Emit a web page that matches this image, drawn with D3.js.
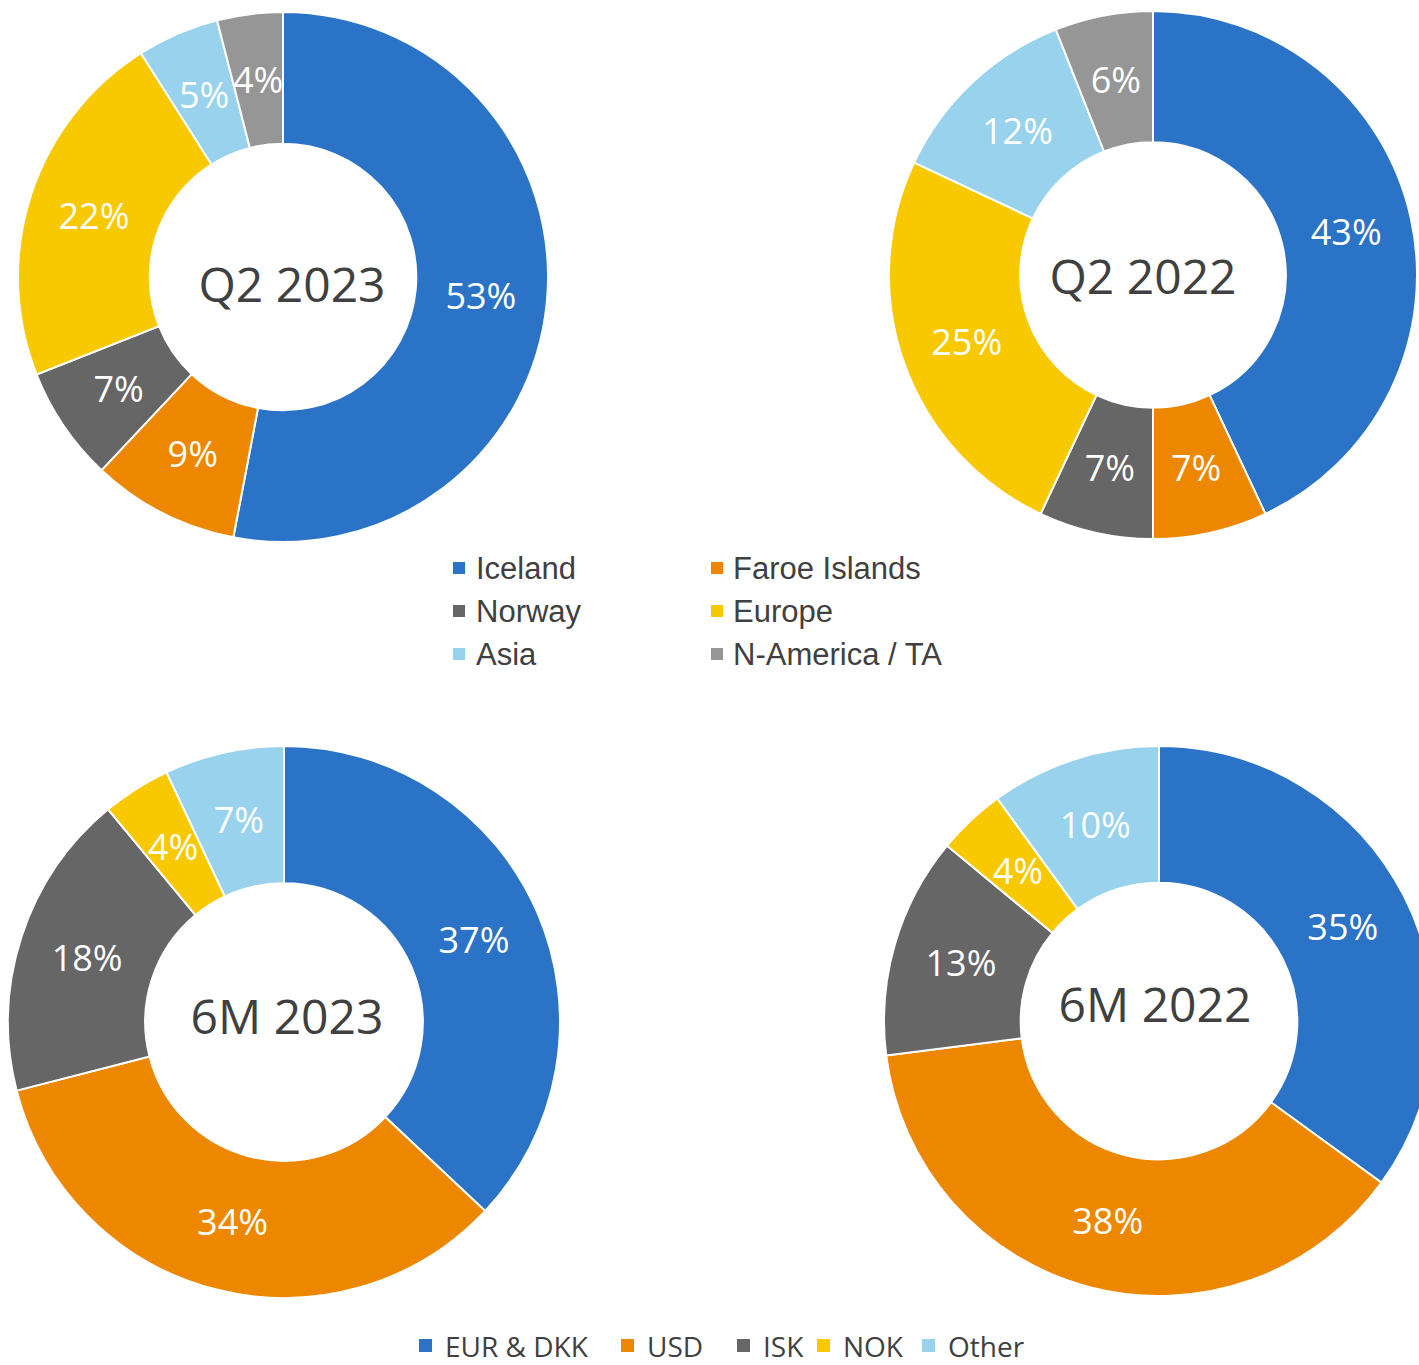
<!DOCTYPE html>
<html>
<head>
<meta charset="utf-8">
<script src="https://cdn.jsdelivr.net/npm/d3@7"></script>
<style>
  body { margin: 0; background: #fff; }
  svg { display: block; }
</style>
</head>
<body>
<svg id="chart" width="1419" height="1365"></svg>
<script>
// sales split by market (top) and by currency (bottom), in percent
const regions = ["Iceland", "Faroe Islands", "Norway", "Europe", "Asia", "N-America / TA"];
const regionColors = ["#2b73c6", "#ee8700", "#666666", "#f8c800", "#98d2ec", "#969696"];
const q2_2023 = [53, 9, 7, 22, 5, 4];
const q2_2022 = [43, 7, 7, 25, 12, 6];

const currencies = ["EUR & DKK", "USD", "ISK", "NOK", "Other"];
const currencyColors = ["#2b73c6", "#ee8700", "#666666", "#f8c800", "#98d2ec"];
const m6_2023 = [37, 34, 18, 4, 7];
const m6_2022 = [35, 38, 13, 4, 10];

const donuts = [
  { title: "Q2 2023", values: q2_2023, colors: regionColors, cx: 283, cy: 277, r: 265, tx: 292, ty: 302 },
  { title: "Q2 2022", values: q2_2022, colors: regionColors, cx: 1153, cy: 275, r: 264, tx: 1143, ty: 294 },
  { title: "6M 2023", values: m6_2023, colors: currencyColors, cx: 284, cy: 1022, r: 276, tx: 287, ty: 1034 },
  { title: "6M 2022", values: m6_2022, colors: currencyColors, cx: 1159, cy: 1021, r: 275, tx: 1155, ty: 1022 }
];

const svg = d3.select("#chart");
const pie = d3.pie().sort(null).value(d => d);

donuts.forEach(function (c) {
  const arc = d3.arc().innerRadius(c.r * 0.503).outerRadius(c.r);
  const mid = d3.arc().innerRadius(c.r * 0.75).outerRadius(c.r * 0.75);
  const g = svg.append("g").attr("transform", `translate(${c.cx},${c.cy})`);
  const slices = pie(c.values);

  g.selectAll("path")
    .data(slices)
    .join("path")
    .attr("d", arc)
    .attr("fill", (d, i) => c.colors[i])
    .attr("stroke", "#fff")
    .attr("stroke-width", 2);

  g.selectAll("text.lbl")
    .data(slices)
    .join("text")
    .attr("class", "lbl")
    .attr("x", d => mid.centroid(d)[0])
    .attr("y", d => mid.centroid(d)[1])
    .attr("dy", "0.36em")
    .attr("text-anchor", "middle")
    .attr("font-family", "'Open Sans', sans-serif")
    .attr("font-size", 36)
    .attr("fill", "#fff")
    .text(d => d.data + "%");

  svg.append("text")
    .attr("x", c.tx)
    .attr("y", c.ty)
    .attr("text-anchor", "middle")
    .attr("font-family", "'Open Sans', sans-serif")
    .attr("font-size", 48)
    .attr("fill", "#404040")
    .text(c.title);
});

// market legend, two columns
const leg1 = svg.append("g");
leg1.selectAll("rect")
  .data(regions)
  .join("rect")
  .attr("x", (d, i) => i % 2 ? 711 : 453)
  .attr("y", (d, i) => 562 + Math.floor(i / 2) * 43)
  .attr("width", 12)
  .attr("height", 12)
  .attr("fill", (d, i) => regionColors[i]);
leg1.selectAll("text")
  .data(regions)
  .join("text")
  .attr("x", (d, i) => i % 2 ? 733 : 476)
  .attr("y", (d, i) => 579 + Math.floor(i / 2) * 43)
  .attr("font-family", "'Liberation Sans', Arial, sans-serif")
  .attr("font-size", 31)
  .attr("fill", "#404040")
  .text(d => d);

// currency legend, one row
const leg2x = [419, 621, 737, 817, 922];
const leg2 = svg.append("g");
leg2.selectAll("rect")
  .data(currencies)
  .join("rect")
  .attr("x", (d, i) => leg2x[i])
  .attr("y", 1339)
  .attr("width", 13)
  .attr("height", 13)
  .attr("fill", (d, i) => currencyColors[i]);
leg2.selectAll("text")
  .data(currencies)
  .join("text")
  .attr("x", (d, i) => leg2x[i] + 26)
  .attr("y", 1357)
  .attr("font-family", "'Open Sans', sans-serif")
  .attr("font-size", 28)
  .attr("fill", "#404040")
  .text(d => d);
</script>
</body>
</html>
